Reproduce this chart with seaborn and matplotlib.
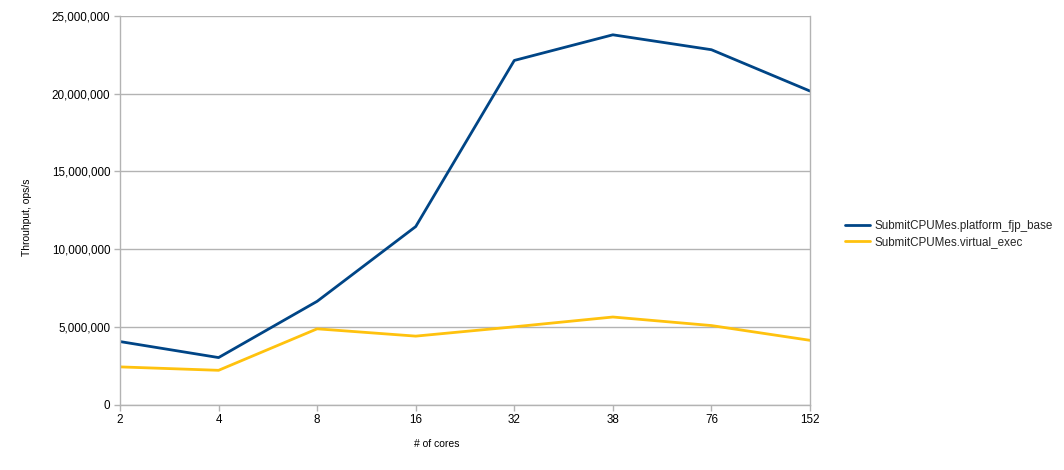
import matplotlib
matplotlib.use("Agg")
import matplotlib.pyplot as plt
import seaborn as sns
import pandas as pd
from matplotlib.ticker import FuncFormatter

cores = ["2", "4", "8", "16", "32", "38", "76", "152"]
platform_fjp_base = [4050000, 3020000, 6640000, 11450000, 22140000, 23790000, 22830000, 20170000]
virtual_exec = [2420000, 2200000, 4870000, 4400000, 5000000, 5630000, 5080000, 4130000]
series_names = ["SubmitCPUMes.platform_fjp_base", "SubmitCPUMes.virtual_exec"]
colors = ["#004586", "#ffc20e"]

df = pd.DataFrame({
    "cores": cores * 2,
    "value": platform_fjp_base + virtual_exec,
    "series": [series_names[0]] * len(cores) + [series_names[1]] * len(cores),
})

sns.set_theme(style="white")
plt.rcParams["font.family"] = ["Liberation Sans", "DejaVu Sans"]

fig = plt.figure(figsize=(10.64, 4.70), dpi=100)
ax = fig.add_axes([120 / 1064, 1 - 404.5 / 470, 690 / 1064, 388.5 / 470])

sns.lineplot(data=df, x="cores", y="value", hue="series", palette=colors,
             linewidth=2.0, ax=ax, sort=False, legend=True)

ax.set_xlim(0, len(cores) - 1)
ax.set_ylim(0, 25000000)
ax.set_yticks(range(0, 25000001, 5000000))
ax.yaxis.set_major_formatter(FuncFormatter(lambda v, p: f"{int(v):,}"))
ax.grid(axis="y", color="#b3b3b3", linewidth=1)
ax.grid(axis="x", visible=False)
ax.set_axisbelow(True)

for s in ["left", "bottom", "right"]:
    ax.spines[s].set_color("#b3b3b3")
    ax.spines[s].set_linewidth(1)
ax.spines["top"].set_visible(False)

ax.tick_params(axis="both", which="major", length=4, width=1, color="#b3b3b3",
               labelsize=8.4, labelcolor="#000000", direction="out", pad=3, bottom=True, left=True)

ax.set_xlabel("# of cores", fontsize=7.5, color="#000000")
ax.set_ylabel("Throuhput, ops/s", fontsize=7.5, color="#000000")
ax.xaxis.set_label_coords((437 - 120) / 690, (404.5 - 439) / 388.5)
ax.yaxis.set_label_coords((32 - 120) / 690, 0.483)

handles, labels = ax.get_legend_handles_labels()
ax.get_legend().remove()
fig.legend(handles, labels, loc="center left", bbox_to_anchor=(845 / 1064, 1 - 234 / 470),
           frameon=False, fontsize=8.4, handlelength=2.1, handletextpad=0.4, labelspacing=0.3,
           borderpad=0, borderaxespad=0)

fig.savefig("out.png", dpi=100)
